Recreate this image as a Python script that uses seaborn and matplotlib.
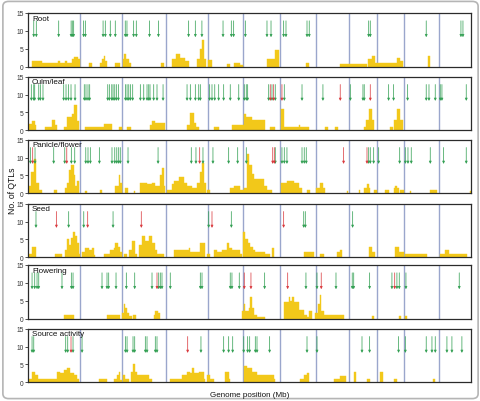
import matplotlib
matplotlib.use("Agg")
import matplotlib.pyplot as plt
from matplotlib.patches import FancyBboxPatch
import numpy as np
import seaborn as sns

# rice chromosome lengths (Mb), chr1..chr12
chrom_lengths = [43.3, 35.9, 36.4, 35.5, 29.9, 31.2, 29.7, 28.4, 23.0, 23.2, 29.0, 27.5]
trait_names = ["Root", "Culm/leaf", "Panicle/flower", "Seed", "Flowering", "Source activity"]

# QTL counts as (start Mb, end Mb, count) along the concatenated genome
root_counts = [
    (3.1, 11.5, 1.6), (11.5, 25, 1), (25, 26.5, 1.6), (26.5, 31, 1), (31, 32.5, 1.6),
    (32.5, 36.8, 1), (36.8, 38.7, 2), (38.7, 41.5, 2.8), (41.5, 43.3, 2),
    (50.8, 53.6, 1), (60.6, 62, 1), (62, 63.4, 2.2), (63.4, 64.8, 3), (64.8, 66.2, 1.5),
    (73.2, 77.4, 1), (79.4, 80.8, 2), (80.8, 82.5, 3.5), (82.5, 84.5, 2), (84.5, 86, 1),
    (111.7, 114.5, 1),
    (120.9, 124.4, 2), (124.4, 128, 3.5), (128, 132.2, 2.5), (132.2, 135, 1.5),
    (142, 144.8, 2), (144.8, 146.2, 5), (146.2, 148.2, 7.5), (148.2, 149.5, 2),
    (151.5, 154.6, 1.8), (167.2, 170, 0.8), (173, 178.5, 1), (178.5, 181, 0.5),
    (201, 207.5, 2), (207.5, 211, 4.5), (234, 236.6, 1),
    (262.6, 285, 0.8), (286, 289, 2), (289, 292, 3), (292, 310.3, 1),
    (310.3, 313.1, 2.5), (313.1, 315.4, 1.5), (336.7, 338.4, 3),
]
culm_counts = [
    (0.3, 3.1, 1.8), (3.1, 5.3, 2.7), (5.3, 6.5, 1.5), (13.7, 19.9, 1), (19.9, 22.7, 2.8),
    (22.7, 24.1, 1.5), (29.7, 32.5, 0.8), (32.5, 36.8, 3.8), (36.8, 38.7, 4.5),
    (38.7, 41, 7), (41, 42.4, 2.5),
    (48, 64, 1), (64, 70, 1.8), (76, 78.8, 0.8),
    (83, 86, 1), (102.7, 104.1, 1.5), (104.1, 106.9, 2.5), (106.9, 115.3, 2),
    (133.6, 136.4, 1.5), (136.4, 139.2, 4.8), (139.2, 141.4, 2), (141.4, 143.4, 1),
    (156, 160.2, 1), (171.4, 181.3, 1.5),
    (181.3, 183.5, 4.5), (183.5, 188.3, 3.8), (188.3, 199.5, 3), (203.7, 208, 1),
    (212.7, 214.9, 6), (214.9, 227.6, 1), (227.6, 229, 1.5), (229, 236, 1),
    (250, 252, 1), (258.4, 260.4, 1),
    (282.3, 284.5, 1), (284.5, 286.5, 3), (286.5, 289.3, 6), (289.3, 291.3, 3),
    (304.7, 307, 1), (307.5, 310.3, 3), (310.3, 312.6, 6), (312.6, 315.4, 3),
]
panicle_counts = [
    (0.3, 2.3, 2), (2.3, 4.4, 6), (4.4, 6.7, 9.6), (6.7, 8.6, 3), (8.6, 11.5, 1),
    (21.3, 24.2, 1), (30.6, 32.5, 1.5), (32.5, 33.9, 3), (33.9, 35.9, 6.5),
    (35.9, 38.1, 7.8), (38.1, 39.6, 5), (39.6, 41, 2), (41, 42.4, 3.5),
    (48, 49.4, 0.5), (60.6, 62, 1), (73.2, 76, 2), (76, 77.4, 5), (77.4, 78.8, 3),
    (78.8, 79.2, 1),
    (81.7, 83.6, 1.5), (88.7, 90.1, 0.5), (94.3, 99.9, 3), (99.9, 104.1, 2.5),
    (104.1, 106.9, 3), (106.9, 110.6, 2), (110.6, 112.5, 5), (112.5, 113.9, 7),
    (113.9, 115.3, 2),
    (116.7, 120.9, 1), (120.9, 122.3, 2.5), (122.3, 126.5, 3.5), (126.5, 130.8, 4.5),
    (130.8, 133.6, 3), (133.6, 137.8, 2), (137.8, 142, 1.5), (142, 144.2, 3),
    (144.2, 146.2, 6), (146.2, 148.2, 8.5), (148.2, 149.8, 3),
    (150.4, 152.6, 1), (170, 172.9, 1.5), (172.9, 178.5, 2), (178.5, 181.3, 1),
    (181.3, 184.1, 1.5), (184.1, 186, 11), (186, 188.3, 8), (188.3, 190.2, 5.5),
    (190.2, 198.1, 4), (198.1, 200.9, 2), (200.9, 205.1, 1),
    (212.7, 217.7, 3), (217.7, 223.3, 3.5), (223.3, 227.6, 3), (227.6, 230.4, 1.5),
    (234.6, 237.4, 1),
    (242.4, 245.8, 1.5), (245.8, 248, 3), (248, 250, 1.5), (268.2, 269, 0.5),
    (278.1, 279.5, 0.8), (282.3, 285.1, 1.5), (285.1, 286.5, 2.5), (286.5, 287.9, 1.5),
    (290.7, 293.5, 0.8),
    (300.5, 303.3, 0.8), (307.5, 309, 1.5), (309, 310.3, 2), (310.3, 311.7, 1.5),
    (313.1, 315.9, 1),
    (321.6, 322.5, 0.5), (338.4, 344, 0.8), (371.5, 372.5, 0.5),
]
seed_counts = [
    (0.3, 3.1, 1), (3.1, 6.4, 3), (22.7, 28.3, 1), (31.1, 32.5, 2), (32.5, 33.9, 5),
    (33.9, 35.9, 3.5), (35.9, 37.6, 5.5), (37.6, 39.6, 7), (39.6, 41, 6), (41, 42.4, 4),
    (42.4, 43.8, 1),
    (45.2, 48, 1.5), (48, 50.8, 2.5), (50.8, 53.6, 2), (53.6, 55, 2.5), (55, 56.4, 0.5),
    (63.4, 69, 1), (69, 71.8, 2), (71.8, 73.2, 2.5), (73.2, 75.2, 4), (75.2, 77.4, 3),
    (77.4, 78.8, 1.5),
    (80.3, 83.1, 1), (84.5, 87.3, 2), (87.3, 90.1, 4.5), (90.1, 91.5, 1),
    (92.9, 95.7, 3.5), (95.7, 98.5, 6), (98.5, 101.3, 4.5), (101.3, 104.1, 6),
    (104.1, 106.9, 4), (106.9, 108.3, 2), (108.3, 110.6, 1), (111.1, 113.9, 1),
    (122.3, 135, 2), (135, 136.4, 2.5), (136.4, 144.8, 1.5), (144.8, 149, 4),
    (150.4, 152.6, 1), (156, 158.8, 2), (158.8, 163, 1.5), (163, 167.2, 2),
    (167.2, 168.6, 4), (168.6, 171.4, 2.5), (171.4, 178.5, 2), (178.5, 179.9, 1),
    (180.7, 182.7, 7), (182.7, 184.6, 5), (184.6, 186.9, 4), (186.9, 189.1, 3),
    (189.1, 191.1, 2), (191.1, 199.5, 1.5), (199.5, 203.7, 1), (205.1, 207.1, 2.5),
    (231.8, 240.2, 1.5),
    (245.8, 248.6, 1), (259.8, 262.6, 1.5), (262.6, 264, 2),
    (286.5, 289.3, 3), (289.3, 292.1, 1.5),
    (308.9, 311.7, 3), (311.7, 315.9, 1.5),
    (317.4, 335.6, 1),
    (346.8, 351, 1), (351, 353.8, 2), (353.8, 369.3, 1),
]
flowering_counts = [
    (29.7, 38.2, 1), (66.2, 77.4, 1),
    (78.8, 80.3, 1.5), (80.3, 81.7, 4), (81.7, 83.1, 3), (83.1, 84.5, 1.5),
    (84.5, 87.3, 0.8), (88.1, 90.9, 1), (105.5, 106.9, 1), (106.9, 108.9, 2),
    (108.9, 110.6, 1.5),
    (179.9, 181.3, 2), (181.3, 182.7, 4), (182.7, 185.5, 2), (185.5, 186.9, 3),
    (186.9, 188.3, 6), (188.3, 189.7, 3), (189.7, 192.5, 1), (192.5, 199.5, 0.5),
    (214.9, 219.1, 4.5), (219.1, 220.5, 6), (220.5, 221.9, 5), (221.9, 223.3, 6),
    (223.3, 227.6, 4.5), (227.6, 231.8, 2.5), (231.8, 234.6, 1), (234.6, 236, 0.5),
    (236, 238.8, 2),
    (241.6, 243.6, 1.5), (243.6, 245.2, 4), (245.2, 246.4, 6.5), (246.4, 248.6, 2),
    (248.6, 265.4, 1),
    (289.3, 290.7, 0.8), (311.7, 313.7, 0.8), (317.4, 318.8, 0.8),
]
source_counts = [
    (0.3, 3.1, 1), (3.1, 5.9, 3), (5.9, 7.9, 2), (7.9, 24.1, 1), (24.1, 26.9, 2.8),
    (26.9, 29.7, 2.5), (29.7, 32.5, 3.5), (32.5, 35.4, 4), (35.4, 38.2, 2.5),
    (38.2, 41, 2), (41, 42.4, 1),
    (59.8, 66.2, 1), (71.8, 74.6, 1), (74.6, 76, 2), (76, 77.4, 3), (77.4, 79.2, 0.5),
    (79.7, 81.7, 2), (81.7, 84.5, 1), (86.4, 87.8, 3), (87.8, 90.1, 5), (90.1, 91.5, 3),
    (91.5, 101.3, 2), (101.3, 104.1, 1),
    (119.5, 129.4, 1), (129.4, 133.6, 2), (133.6, 136.4, 3), (136.4, 137.8, 2.5),
    (137.8, 139.2, 4), (139.2, 143.4, 2.5), (143.4, 147.6, 3), (147.6, 149, 1),
    (150.4, 153.2, 2), (153.2, 156, 1), (165.8, 168.6, 3), (168.6, 170, 1),
    (181.3, 184.1, 4.5), (184.1, 188.3, 4), (188.3, 192.5, 3), (192.5, 206.5, 2),
    (206.5, 207.9, 1),
    (229, 231.8, 1), (231.8, 234.6, 2), (234.6, 236, 2.5),
    (257, 262.6, 1), (262.6, 267.7, 1.8),
    (273.9, 276.1, 3), (285.1, 287.9, 1),
    (296.3, 298.5, 3), (307.5, 310.3, 1), (340.6, 342.6, 1),
]

# QTL positions (Mb) marked by arrows; red = second marker type
root_green = [4.5, 6.7, 25.5, 36, 37, 38.1, 46.5, 48, 62.9, 64.8, 69, 73.2, 81.6, 83, 88.6,
              90.9, 102, 109.5, 134.9, 140.6, 146.1, 163.9, 170.9, 172.8, 182.7, 200.9,
              204.3, 214.9, 216.9, 234.6, 236.5, 286.5, 287.9, 335, 364.2, 365.9]
root_red = []
culm_green = [2.5, 4.5, 5.3, 8.7, 10.1, 12.3, 29.7, 31.7, 33.7, 35.9, 39.3, 47.1, 48.5, 50.2,
              51.6, 66.8, 68.2, 70.2, 71.3, 72.7, 74.1, 75.8, 81.7, 83.1, 84.5, 85.9, 87.8,
              94.3, 97.1, 99.9, 101.3, 102.4, 105.5, 108.3, 113.4, 133.6, 136.4, 140.6,
              143.4, 144.8, 152.6, 154.6, 156.9, 160.2, 164.4, 170, 177.1, 181.8, 183.5,
              184.6, 202.3, 205.1, 207.9, 215.5, 230.4, 248, 271.1, 281.7, 282.8, 303.3,
              307.5, 319.3, 335, 337.3, 342.6, 346.8, 348.2, 368.7]
culm_red = [203.7, 206.5, 213.5, 262.6, 287.9]
panicle_green = [1.7, 5.6, 21.3, 30.6, 36.2, 39, 48.3, 50.2, 52.2, 59.8, 70.4, 72.7, 74.4, 76,
                 77.4, 83.9, 109.2, 137.2, 141.1, 147, 155.4, 168.6, 176.2, 183.5, 207.9,
                 213.5, 215.5, 217.7, 230.4, 232.3, 234, 286.5, 287.9, 290.7, 294.9, 312.6,
                 317.4, 319.6, 322.4, 338.4, 349.6, 368.7]
panicle_red = [3.6, 32.3, 144.2, 205.7, 207.1, 265.4, 285.1]
seed_green = [6.4, 33.9, 46.6, 71.3, 151.8, 170.9, 231.8, 233.2, 273]
seed_red = [23.6, 49.9, 95.1, 154.6, 214.9]
flowering_green = [3.1, 5.3, 7.3, 8.7, 28.3, 36.2, 37.6, 62, 66.2, 67.6, 73.8, 82.5, 89.5,
                   104.1, 109.7, 111.1, 112.5, 119.5, 144.8, 146.2, 170, 171.4, 177.6, 198.9,
                   233.7, 243, 259, 272.7, 273.9, 287.3, 306.1, 310.3, 312.3, 317.9, 362.8]
flowering_red = [108.3, 181.8, 187.4, 218.3, 246.6, 308.4]
source_green = [3.1, 4.5, 31.4, 33.1, 37.6, 45.2, 81.7, 83.1, 88.1, 89.5, 98.5, 99.9, 106.9,
                108.3, 145.3, 164.4, 168.6, 172, 181.3, 184.6, 186.3, 191.1, 192.5, 203.1,
                234.6, 243, 280.9, 287.3, 311.7, 317.4, 335, 339.8, 342.6, 352.4, 356.6, 365]
source_red = [35.9, 134.1]

panel_counts = [root_counts, culm_counts, panicle_counts, seed_counts, flowering_counts, source_counts]
panel_green = [root_green, culm_green, panicle_green, seed_green, flowering_green, source_green]
panel_red = [root_red, culm_red, panicle_red, seed_red, flowering_red, source_red]

sns.set_style("white")
plt.rcParams["font.family"] = ["Liberation Sans", "DejaVu Sans"]

bar_color = "#f2c81a"
chrom_line = "#9aa6cc"
green = "#2f9e50"
red = "#d9363a"

fig = plt.figure(figsize=(4.81, 4.02), dpi=100)
fig.patches.append(FancyBboxPatch((0.006, 0.006), 0.988, 0.988,
                                  boxstyle="round,pad=0,rounding_size=0.012",
                                  transform=fig.transFigure, fill=False,
                                  edgecolor="#b5b5b5", lw=1.2))

bounds = np.cumsum(chrom_lengths)
genome_len = bounds[-1]
panel_tops = [14, 77.7, 140.7, 204.7, 266, 329.7]  # pixel rows of panel tops
panel_h = 53.5

for i, name in enumerate(trait_names):
    top = 1 - panel_tops[i] / 402
    ax = fig.add_axes([0.059, top - panel_h / 402, 0.921, panel_h / 402])
    seg = np.array(panel_counts[i])
    ax.bar(seg[:, 0], seg[:, 2], width=seg[:, 1] - seg[:, 0], align="edge",
           color=bar_color, edgecolor=bar_color, linewidth=0.3, zorder=2)
    for b in bounds[:-1]:
        ax.axvline(b, color=chrom_line, lw=1.0, zorder=1)
    for pos_list, col in ((panel_green[i], green), (panel_red[i], red)):
        for x in pos_list:
            ax.annotate("", xy=(x, 8.2), xytext=(x, 12.8),
                        arrowprops=dict(arrowstyle="-|>", color=col, lw=0.6,
                                        mutation_scale=3.5, shrinkA=0, shrinkB=0,
                                        alpha=0.85), zorder=3)
    ax.set_xlim(0, genome_len)
    ax.set_ylim(0, 15)
    ax.set_yticks([0, 5, 10, 15])
    ax.set_xticks([])
    ax.tick_params(axis="y", labelsize=4.8, length=2, width=0.6, pad=1.5,
                   left=True, colors="#333333")
    for s in ax.spines.values():
        s.set_color("#2b2b2b")
        s.set_linewidth(0.9)
    ax.text(0.008, 0.97, name, transform=ax.transAxes, ha="left", va="top",
            fontsize=5.8, color="#111111")

fig.text(0.025, 0.525, "No. of QTLs", rotation=90, ha="center", va="center",
         fontsize=6.2, color="#111111")
fig.text(0.52, 0.017, "Genome position (Mb)", ha="center", va="center",
         fontsize=5.8, color="#111111")

fig.savefig("out.png", dpi=100)
